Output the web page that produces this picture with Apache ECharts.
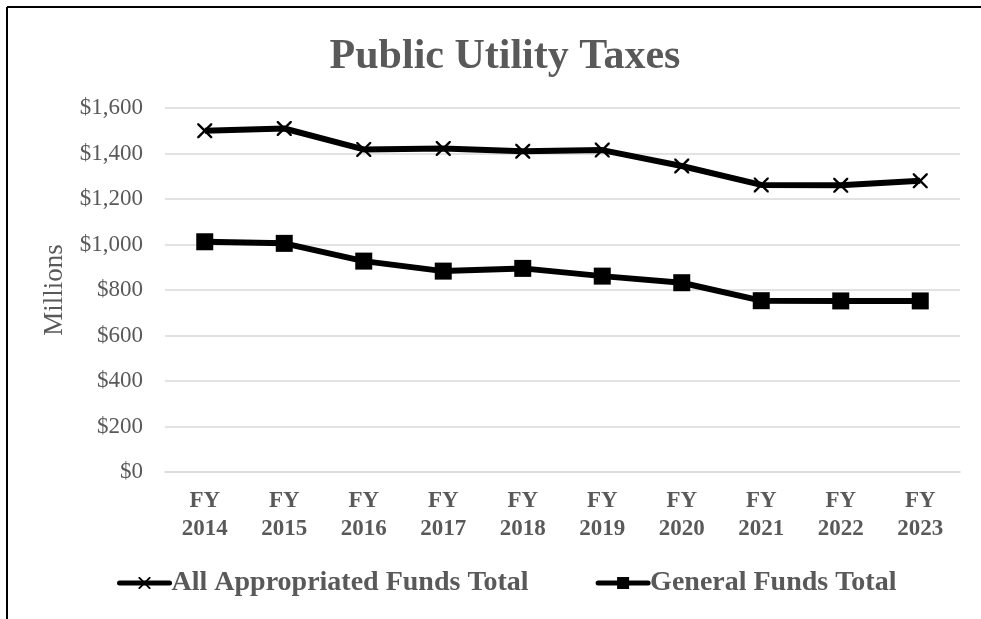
<!DOCTYPE html>
<html>
<head>
<meta charset="utf-8">
<script src="https://cdn.jsdelivr.net/npm/echarts@6/dist/echarts.min.js"></script>
<style>
  html, body { margin: 0; padding: 0; background: #fff; }
  #chart { width: 981px; height: 619px; }
</style>
</head>
<body>
<div id="chart"></div>
<script>
  // fiscal years on the x axis
  const years = ['FY\n2014', 'FY\n2015', 'FY\n2016', 'FY\n2017', 'FY\n2018',
                 'FY\n2019', 'FY\n2020', 'FY\n2021', 'FY\n2022', 'FY\n2023'];
  // millions of dollars
  const allFunds = [1500, 1510, 1418, 1422, 1410, 1415, 1345, 1262, 1260, 1280];
  const generalFunds = [1012, 1005, 927, 883, 895, 861, 832, 753, 752, 752];
  const yTicks = [0, 200, 400, 600, 800, 1000, 1200, 1400, 1600];

  const serif = '"Liberation Serif", "Times New Roman", serif';
  const grey = '#595959';
  const crossPath = 'path://M0,0L1.1,0L10,8.9L10,10L8.9,10L0,1.1Z M10,0L10,1.1L1.1,10L0,10L0,8.9L8.9,0Z';

  const chart = echarts.init(document.getElementById('chart'));
  chart.setOption({
    animation: false,
    title: {
      text: 'Public Utility Taxes',
      left: 500,
      top: 31,
      textAlign: 'center',
      textStyle: { fontFamily: serif, fontSize: 42, fontWeight: 'bold', color: grey }
    },
    legend: {
      left: 112,
      top: 564,
      itemWidth: 50,
      itemHeight: 15,
      itemGap: 67,
      lineStyle: { width: 5, cap: 'round' },
      textStyle: { fontFamily: serif, fontSize: 28, fontWeight: 'bold', color: grey, padding: [0, 0, 0, -3] }
    },
    grid: { left: 165, right: 21, top: 108, bottom: 147 },
    xAxis: {
      type: 'category',
      data: years,
      axisLine: { lineStyle: { color: '#d9d9d9', width: 1.5 } },
      axisTick: { show: false },
      axisLabel: {
        margin: 15,
        interval: 0,
        fontFamily: serif,
        fontSize: 23,
        fontWeight: 'bold',
        color: grey,
        lineHeight: 28
      }
    },
    yAxis: {
      type: 'value',
      min: yTicks[0],
      max: yTicks[yTicks.length - 1],
      interval: 200,
      name: 'Millions',
      nameLocation: 'middle',
      nameRotate: 90,
      nameGap: 93,
      nameTextStyle: { fontFamily: serif, fontSize: 27, color: grey },
      axisLine: { show: false },
      axisTick: { show: false },
      splitLine: { lineStyle: { color: '#d9d9d9', width: 1.5 } },
      axisLabel: {
        margin: 22,
        fontFamily: serif,
        fontSize: 23,
        color: grey,
        formatter: function (v) {
          return '$' + v.toLocaleString('en-US');
        }
      }
    },
    series: [
      {
        name: 'All Appropriated Funds Total',
        type: 'line',
        data: allFunds,
        symbol: crossPath,
        symbolSize: 15,
        itemStyle: { color: '#000' },
        lineStyle: { color: '#000', width: 6 }
      },
      {
        name: 'General Funds Total',
        type: 'line',
        data: generalFunds,
        symbol: 'rect',
        symbolSize: 17,
        itemStyle: { color: '#000' },
        lineStyle: { color: '#000', width: 6 }
      }
    ],
    graphic: [
      { type: 'line', shape: { x1: 7, y1: 7, x2: 981, y2: 7 }, style: { stroke: '#000', lineWidth: 2 } },
      { type: 'line', shape: { x1: 7, y1: 7, x2: 7, y2: 619 }, style: { stroke: '#000', lineWidth: 2 } }
    ]
  });
</script>
</body>
</html>
